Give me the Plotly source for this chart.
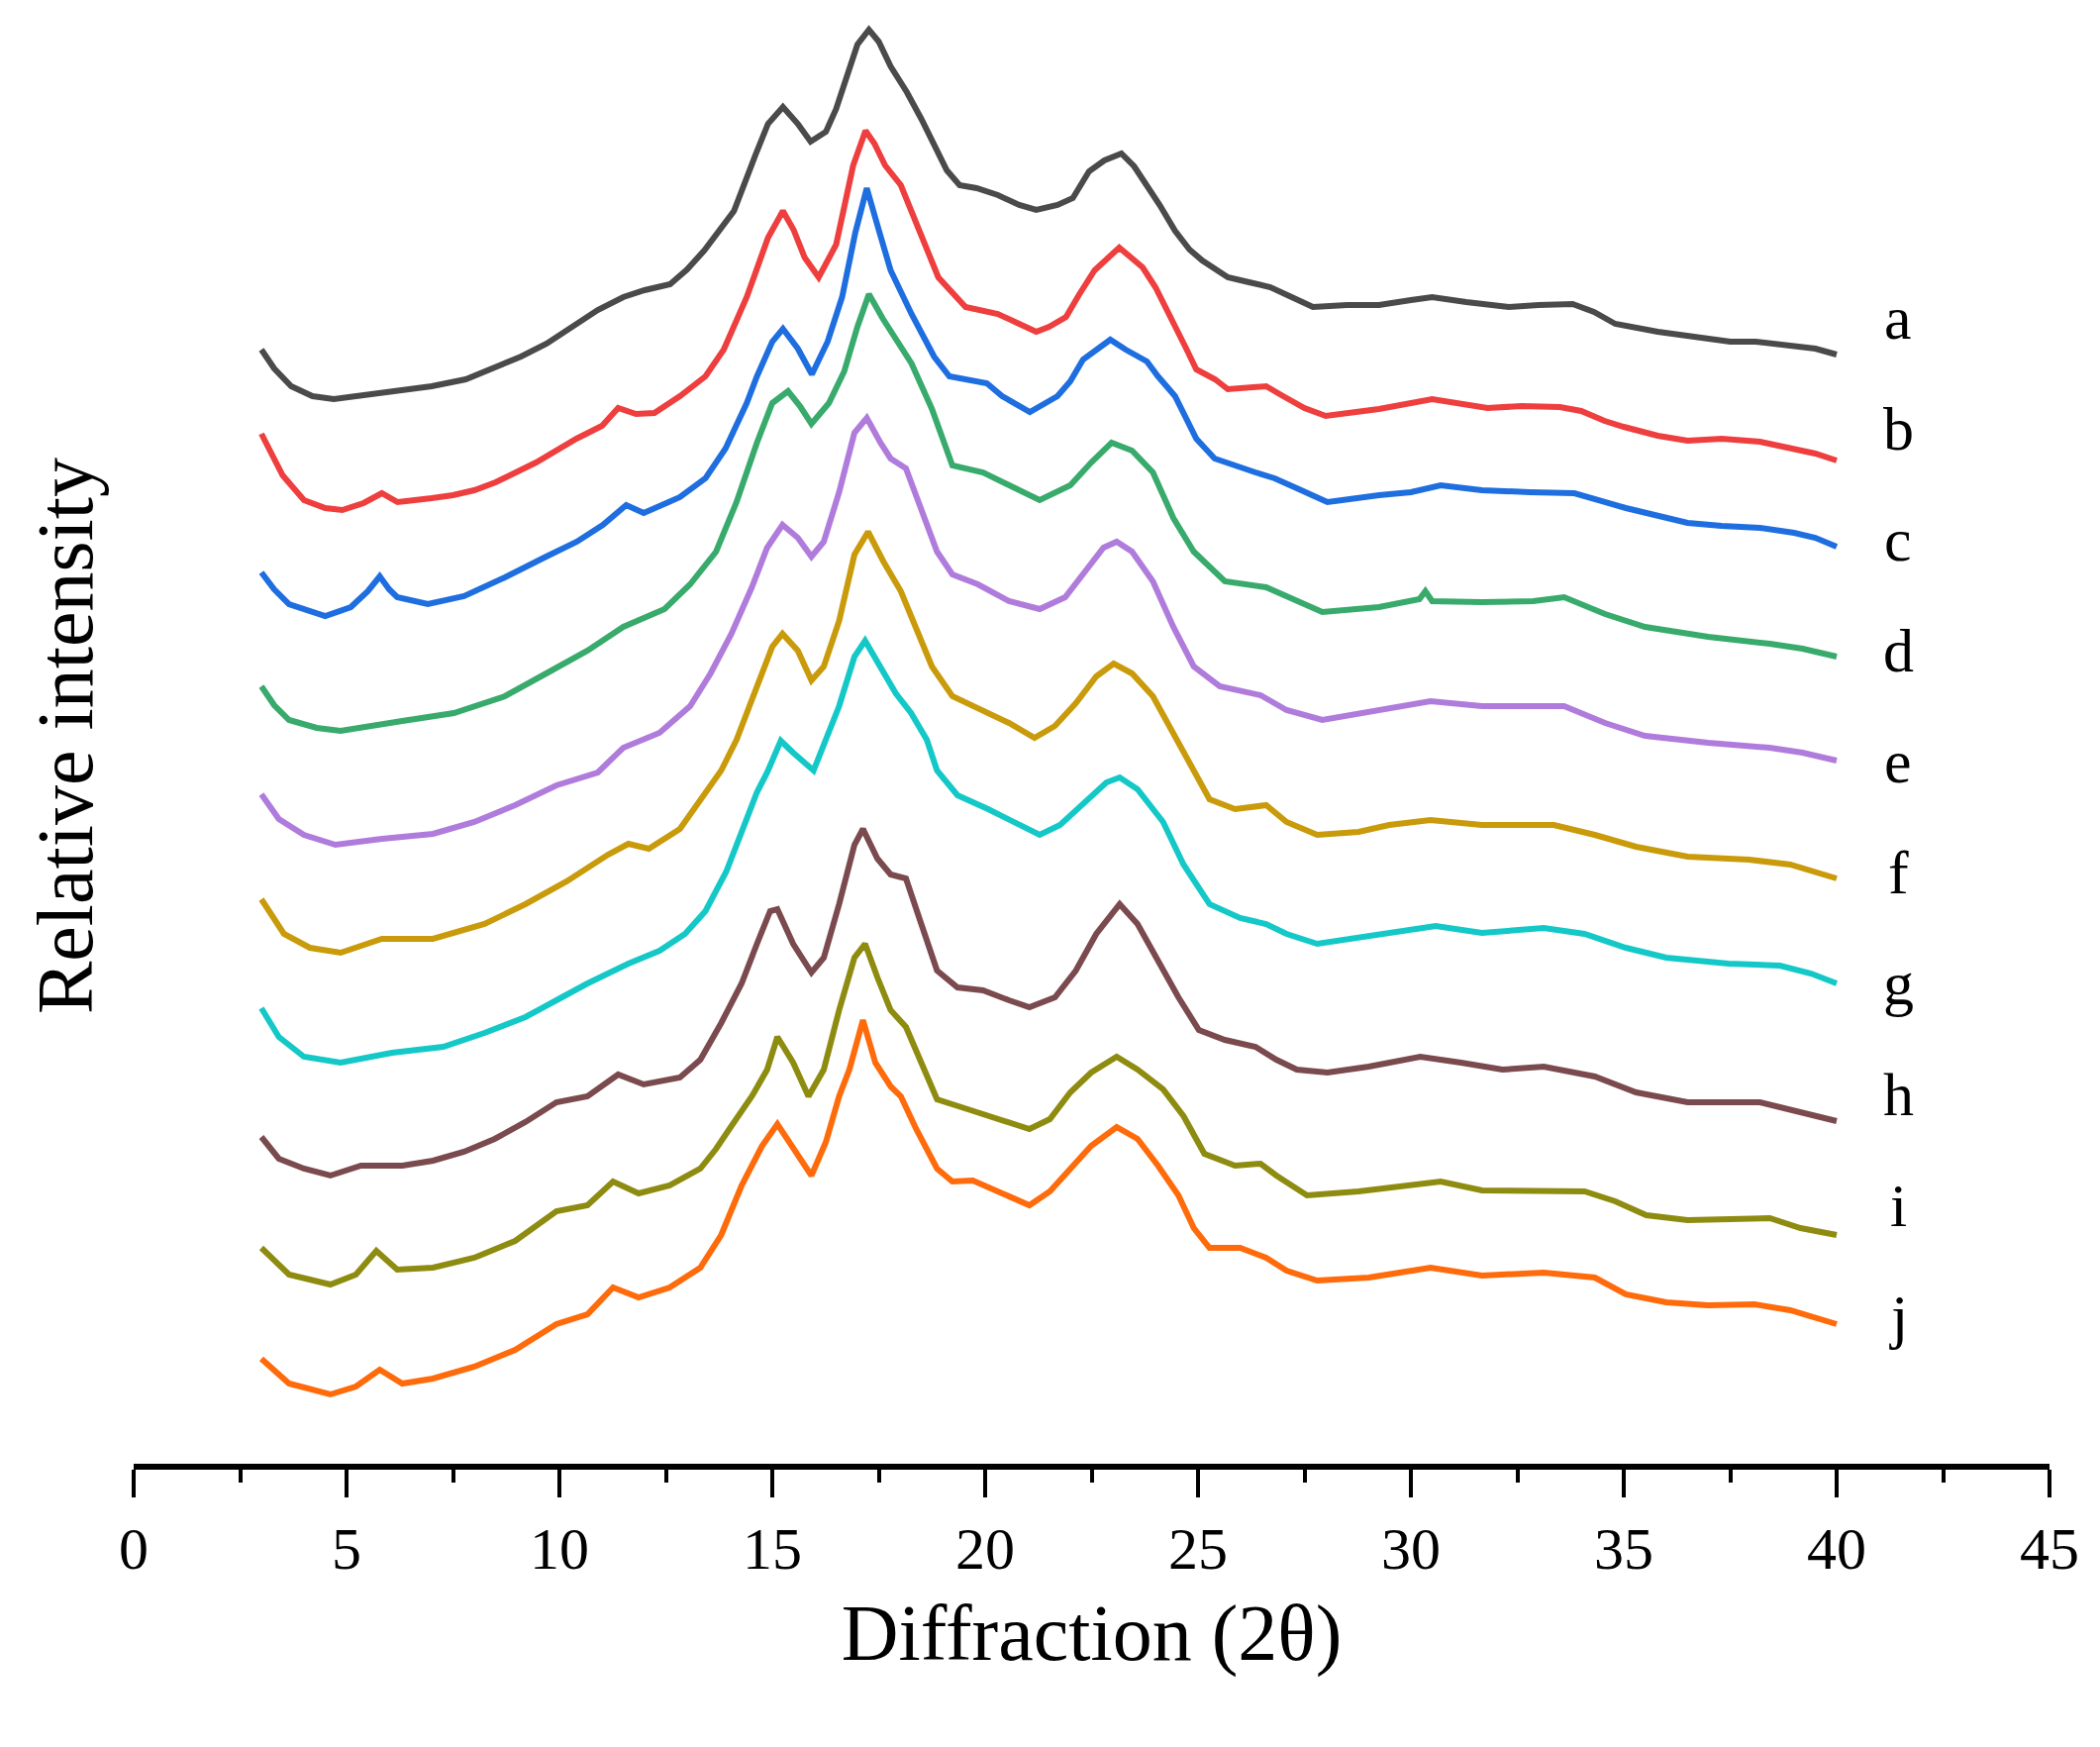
import plotly.graph_objects as go

# ---- data (2θ, stacked relative intensity) ----
a_pts = [(3.0,1128),(3.3,1109),(3.7,1091),(4.2,1081),(4.7,1078),(5.5,1083),(6.3,1088),(7.0,1091),(7.8,1098),(8.5,1111),
         (9.1,1121),(9.7,1134),(10.3,1151),(10.9,1168),(11.5,1181),(12.0,1188),(12.6,1194),(13.0,1209),(13.4,1228),(14.1,1268),
         (14.6,1324),(14.9,1356),(15.25,1373),(15.6,1356),(15.9,1338),(16.26,1348),(16.5,1371),(16.76,1404),(17.0,1436),(17.27,1451),
         (17.5,1439),(17.78,1414),(18.16,1388),(18.5,1361),(18.8,1334),(19.1,1309),(19.4,1294),(19.8,1291),(20.3,1284),(20.8,1274),
         (21.2,1269),(21.7,1274),(22.06,1281),(22.44,1308),(22.8,1319),(23.2,1326),(23.5,1313),(23.8,1294),(24.1,1274),(24.46,1248),
         (24.8,1229),(25.1,1218),(25.7,1201),(26.2,1196),(26.7,1191),(27.2,1181),(27.7,1171),(28.5,1173),(29.25,1173),(30.0,1178),
         (30.5,1181),(31.3,1176),(32.3,1171),(33.0,1173),(33.8,1174),(34.3,1166),(34.8,1154),(35.8,1146),(36.8,1141),(37.5,1136),
         (38.1,1136),(39.0,1131),(39.5,1129),(40.0,1123)]

b_pts = [(3.0,1043),(3.5,1001),(4.0,976),(4.5,968),(4.9,966),(5.4,973),(5.83,983),(6.2,974),(7.0,978),(7.5,981),
         (8.0,986),(8.5,994),(9.45,1014),(10.4,1038),(11.0,1051),(11.38,1069),(11.8,1063),(12.23,1064),(12.83,1081),(13.43,1101),
         (13.86,1128),(14.4,1181),(14.9,1241),(15.25,1268),(15.5,1249),(15.76,1221),(16.09,1201),(16.5,1234),(16.9,1314),(17.19,1349),
         (17.4,1336),(17.65,1314),(18.02,1294),(18.4,1254),(18.9,1201),(19.54,1171),(20.3,1164),(20.8,1154),(21.2,1146),(21.5,1151),
         (21.9,1161),(22.2,1183),(22.57,1208),(23.15,1231),(23.7,1211),(24.0,1191),(24.33,1164),(24.7,1131),(24.96,1108),(25.4,1098),
         (25.7,1088),(26.2,1089),(26.6,1091),(27.0,1081),(27.5,1069),(28.0,1061),(28.6,1065),(29.25,1068),(30.5,1078),(31.0,1074),
         (31.8,1069),(32.6,1071),(33.5,1070),(34.0,1066),(34.55,1056),(35.0,1050),(35.8,1041),(36.5,1036),(37.3,1038),(38.2,1035),
         (38.9,1029),(39.5,1023),(40.0,1016)]

c_pts = [(3.0,903),(3.3,886),(3.65,871),(4.5,859),(5.1,868),(5.5,884),(5.78,899),(6.0,886),(6.19,878),(6.91,871),
         (7.76,879),(8.72,898),(9.69,919),(10.41,934),(11.02,951),(11.57,971),(11.98,963),(12.83,979),(13.43,998),(13.9,1028),
         (14.4,1074),(14.64,1101),(15.0,1136),(15.25,1149),(15.6,1129),(15.93,1103),(16.3,1136),(16.64,1181),(16.95,1246),(17.22,1291),
         (17.5,1249),(17.78,1208),(18.27,1164),(18.8,1121),(19.16,1101),(20.04,1094),(20.4,1081),(21.05,1065),(21.7,1081),(22.0,1096),
         (22.3,1118),(22.94,1138),(23.3,1128),(23.8,1116),(24.06,1101),(24.46,1081),(24.96,1038),(25.39,1018),(26.35,1004),(26.8,998),
         (27.32,988),(28.04,974),(29.25,981),(30.0,984),(30.7,991),(31.67,986),(32.8,984),(33.84,983),(35.05,968),(36.5,953),
         (37.3,950),(38.2,948),(39.0,943),(39.5,938),(40.0,929)]

d_pts = [(3.0,788),(3.3,769),(3.65,754),(4.3,746),(4.86,743),(5.5,748),(6.31,753),(7.52,761),(8.72,778),(9.69,801),
         (10.66,824),(11.5,848),(12.47,866),(13.07,891),(13.68,924),(14.16,974),(14.64,1034),(15.0,1074),(15.37,1086),(15.65,1071),
         (15.92,1053),(16.33,1074),(16.69,1106),(17.0,1151),(17.27,1184),(17.6,1159),(17.9,1138),(18.27,1114),(18.75,1068),(19.23,1011),
         (19.95,1004),(20.56,991),(21.28,976),(22.0,991),(22.49,1014),(22.97,1034),(23.45,1026),(23.94,1004),(24.42,958),(24.9,924),
         (25.63,894),(26.6,888),(27.32,874),(27.92,863),(29.25,868),(30.2,876),(30.34,884),(30.5,874),(31.67,873),(32.87,874),
         (33.6,878),(34.56,861),(35.5,848),(36.98,838),(38.43,831),(39.2,826),(40.0,818)]

e_pts = [(3.0,679),(3.41,654),(4.0,638),(4.74,628),(5.83,634),(7.03,639),(8.0,651),(8.96,668),(9.93,688),(10.9,701),
         (11.5,726),(12.35,741),(13.07,768),(13.55,801),(14.04,841),(14.52,888),(14.88,928),(15.24,951),(15.6,938),(15.92,919),
         (16.21,934),(16.57,984),(16.93,1044),(17.22,1059),(17.54,1034),(17.78,1018),(18.14,1008),(18.5,968),(18.87,924),(19.23,901),
         (19.83,891),(20.56,874),(21.28,866),(21.88,878),(22.37,904),(22.78,928),(23.09,934),(23.45,924),(23.94,894),(24.42,848),
         (24.9,808),(25.51,788),(26.47,779),(27.08,764),(27.92,754),(29.25,764),(30.46,773),(31.67,768),(33.6,768),(34.56,751),
         (35.5,738),(36.98,731),(38.43,726),(39.2,721),(40.0,713)]

f_pts = [(3.0,573),(3.53,538),(4.14,524),(4.86,519),(5.83,533),(7.03,533),(8.24,548),(9.2,568),(10.17,591),(11.14,618),
         (11.62,629),(12.1,624),(12.83,644),(13.31,674),(13.8,703),(14.16,734),(14.64,788),(15.0,828),(15.24,841),(15.6,824),
         (15.92,794),(16.21,808),(16.57,854),(16.93,921),(17.25,944),(17.61,914),(18.02,884),(18.38,848),(18.75,808),(19.23,778),
         (19.95,764),(20.56,751),(21.16,736),(21.64,748),(22.13,771),(22.61,798),(23.02,811),(23.45,801),(23.94,778),(24.42,741),
         (24.9,701),(25.27,674),(25.87,664),(26.6,668),(27.08,651),(27.8,638),(28.77,641),(29.49,648),(30.46,653),(31.67,648),
         (33.36,648),(34.32,638),(35.29,626),(36.5,616),(37.94,613),(38.91,608),(40.0,594)]

g_pts = [(3.0,463),(3.41,434),(4.0,414),(4.86,408),(6.07,418),(7.27,424),(8.24,438),(9.2,454),(9.93,471),(10.66,488),
         (11.62,508),(12.35,521),(12.95,538),(13.43,561),(13.92,601),(14.28,641),(14.64,681),(14.88,701),(15.2,733),(15.49,721),
         (15.97,703),(16.57,768),(16.93,818),(17.18,834),(17.54,808),(17.9,781),(18.26,761),(18.63,734),(18.87,703),(19.35,678),
         (20.07,664),(20.8,648),(21.28,638),(21.76,648),(22.37,671),(22.85,691),(23.16,696),(23.58,684),(24.18,651),(24.66,608),
         (25.27,568),(25.99,554),(26.6,548),(27.08,538),(27.8,528),(28.77,534),(29.73,541),(30.58,546),(31.67,539),(33.12,544),
         (34.08,538),(35.05,524),(36.0,514),(37.46,508),(38.67,506),(39.4,498),(40.0,488)]

h_pts = [(3.0,333),(3.41,311),(4.0,301),(4.62,294),(5.34,304),(6.31,304),(7.03,309),(7.76,318),(8.48,331),(9.2,348),
         (9.93,368),(10.66,374),(11.38,396),(11.98,386),(12.83,393),(13.31,411),(13.8,448),(14.28,488),(14.64,528),(14.95,561),
         (15.12,563),(15.49,528),(15.92,499),(16.21,514),(16.57,568),(16.93,628),(17.13,644),(17.47,614),(17.78,598),(18.14,594),
         (18.5,548),(18.87,501),(19.35,484),(19.95,481),(20.56,471),(21.04,464),(21.64,474),(22.13,501),(22.61,538),(23.16,568),
         (23.58,548),(24.06,511),(24.54,474),(25.02,441),(25.63,431),(26.35,424),(26.84,411),(27.32,401),(28.04,398),(29.01,404),
         (30.22,414),(31.18,408),(32.15,401),(33.12,404),(34.32,394),(35.29,378),(36.5,368),(38.2,368),(38.91,361),(40.0,349)]

i_pts = [(3.0,221),(3.65,194),(4.62,184),(5.22,194),(5.7,218),(6.19,199),(7.03,201),(8.0,211),(8.96,228),(9.93,258),
         (10.66,264),(11.26,288),(11.86,276),(12.59,284),(13.31,301),(13.68,321),(14.04,344),(14.52,374),(14.88,401),(15.12,434),
         (15.49,408),(15.85,374),(16.21,401),(16.57,461),(16.93,514),(17.18,528),(17.47,494),(17.78,461),(18.14,444),(18.5,408),
         (18.87,371),(19.59,361),(20.32,351),(21.04,341),(21.52,351),(22.0,378),(22.49,398),(23.09,414),(23.58,401),(24.18,381),
         (24.66,354),(25.15,316),(25.87,304),(26.47,306),(26.84,294),(27.56,274),(28.77,278),(29.97,284),(30.7,288),(31.67,279),
         (33.12,278),(34.08,278),(34.8,268),(35.53,254),(36.5,249),(37.7,251),(38.43,251),(39.15,241),(40.0,234)]

j_pts = [(3.0,109),(3.65,84),(4.62,73),(5.22,81),(5.78,98),(6.31,84),(7.03,89),(8.0,101),(8.96,118),(9.93,144),
         (10.66,154),(11.26,181),(11.86,171),(12.59,181),(13.31,201),(13.8,234),(14.28,284),(14.76,324),(15.12,346),(15.49,321),
         (15.92,294),(16.26,328),(16.57,374),(16.81,401),(17.13,451),(17.42,408),(17.78,384),(18.02,374),(18.38,341),(18.87,301),
         (19.23,288),(19.71,289),(20.32,278),(21.04,264),(21.52,278),(22.0,301),(22.49,324),(23.09,343),(23.58,331),(24.06,304),
         (24.54,274),(24.9,241),(25.27,221),(25.99,221),(26.6,211),(27.08,198),(27.8,188),(29.01,191),(30.46,201),(31.67,193),
         (33.12,196),(34.32,191),(35.05,174),(36.0,166),(36.98,163),(38.07,164),(38.91,158),(40.0,144)]

series_names = ["a", "b", "c", "d", "e", "f", "g", "h", "i", "j"]
series_pts = [a_pts, b_pts, c_pts, d_pts, e_pts, f_pts, g_pts, h_pts, i_pts, j_pts]
x_ticks = [0, 5, 10, 15, 20, 25, 30, 35, 40, 45]

# ---- styling ----
colors = ["#4a4a4a", "#ee3e3e", "#1e6ee0", "#38aa6c", "#b07cdc",
          "#c99a0a", "#14c8c8", "#7a4a4e", "#8e8c10", "#ff6a0a"]
FONT = "Liberation Serif, Times New Roman, serif"
label_x = 41.45
label_top = 1160
label_step = 112.0

fig = go.Figure()
for name, pts, col in zip(series_names, series_pts, colors):
    xs = [p[0] for p in pts]
    ys = [p[1] for p in pts]
    fig.add_trace(go.Scatter(x=xs, y=ys, mode="lines", name=name,
                             line=dict(color=col, width=6), showlegend=False))

for k, name in enumerate(series_names):
    fig.add_annotation(x=label_x, y=label_top - k * label_step, xref="x", yref="y",
                       text=name, showarrow=False, xanchor="center", yanchor="middle",
                       font=dict(family=FONT, size=62, color="black"))

fig.update_layout(
    width=2105, height=1748,
    margin=dict(l=127, r=43, t=0, b=278),
    paper_bgcolor="white", plot_bgcolor="white",
    font=dict(family=FONT, color="black"),
    xaxis=dict(range=[0, 45], tickvals=x_ticks, ticktext=[str(t) for t in x_ticks],
               showgrid=False, zeroline=False,
               showline=True, linewidth=6, linecolor="black",
               ticks="outside", ticklen=28, tickwidth=4, tickcolor="black",
               minor=dict(dtick=2.5, tick0=0, ticks="outside", ticklen=13, tickwidth=4, tickcolor="black"),
               tickfont=dict(family=FONT, size=60, color="black"),
               ticklabelstandoff=0,
               title=dict(text="Diffraction (2θ)", font=dict(family=FONT, size=80, color="black"),
                          standoff=26),
               automargin=False),
    yaxis=dict(range=[3, 1473], showgrid=False, zeroline=False, showline=False,
               showticklabels=False, ticks="",
               title=dict(text="Relative intensity", font=dict(family=FONT, size=80, color="black"),
                          standoff=14),
               automargin=False),
)

fig.write_html("out.html")
